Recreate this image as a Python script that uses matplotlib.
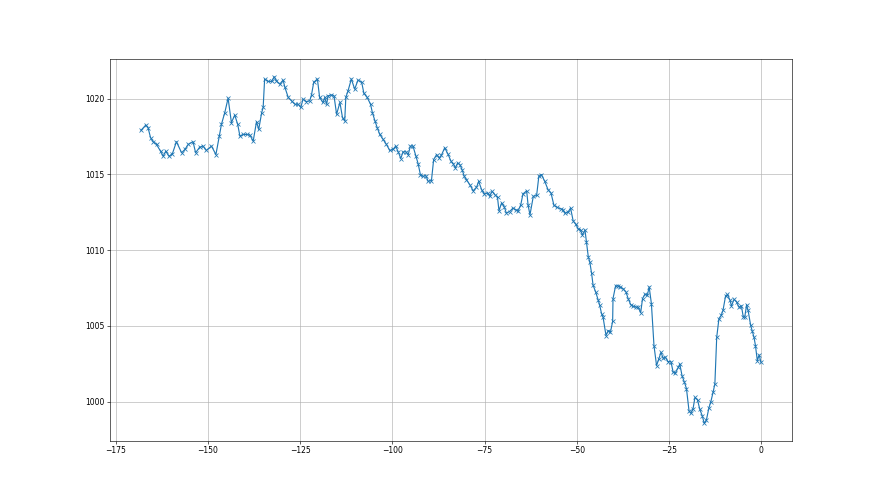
import matplotlib
matplotlib.use("Agg")
import matplotlib.pyplot as plt

hours = [
    -168.1, -166.8, -166.2, -165.5, -164.8, -163.9, -162.8, -162.1, -161.4, -160.5,
    -159.6, -158.5, -157.1, -156.2, -155.3, -154.0, -153.3, -152.2, -151.3, -150.4,
    -149.0, -147.8, -146.9, -146.3, -145.4, -144.5, -143.6, -142.7, -141.9, -141.3,
    -140.4, -139.5, -138.6, -137.7, -136.8, -136.2, -135.4, -135.0, -134.6, -133.7,
    -132.7, -132.0, -131.4, -130.5, -129.6, -129.1, -128.2, -127.3, -126.4, -125.5,
    -124.8, -124.2, -123.3, -122.4, -121.9, -121.3, -120.3, -119.7, -118.8, -118.3,
    -117.8, -117.4, -116.5, -115.8, -115.1, -114.2, -113.5, -112.9, -112.6, -112.0,
    -111.1, -110.2, -109.3, -108.3, -107.7, -106.8, -105.9, -105.4, -104.7, -104.1,
    -103.4, -102.5, -101.6, -100.7, -99.8, -99.1, -98.4, -97.7, -97.1, -96.3,
    -95.7, -95.1, -94.4, -93.6, -93.0, -92.4, -91.7, -90.9, -90.3, -89.4,
    -88.8, -88.0, -87.3, -86.7, -85.8, -84.9, -84.1, -83.5, -82.9, -82.3,
    -81.7, -81.1, -80.5, -79.9, -79.0, -78.1, -77.2, -76.6, -75.8, -75.1,
    -74.2, -73.6, -73.0, -72.2, -71.5, -71.1, -70.4, -69.7, -69.1, -68.2,
    -67.3, -66.6, -65.9, -65.2, -64.6, -63.6, -63.2, -62.7, -61.8, -60.9,
    -60.3, -59.6, -58.7, -57.8, -57.0, -56.2, -55.3, -54.4, -53.7, -53.3,
    -52.4, -51.7, -51.0, -50.3, -49.6, -49.0, -48.5, -47.8, -47.4, -46.9,
    -46.5, -46.0, -45.6, -44.9, -44.2, -43.8, -43.3, -42.9, -42.1, -41.5,
    -40.9, -40.3, -40.2, -39.5, -38.8, -38.2, -37.5, -36.7, -36.1, -35.4,
    -34.7, -34.0, -33.4, -32.7, -32.2, -31.6, -30.9, -30.4, -29.8, -29.1,
    -28.4, -27.8, -27.2, -26.6, -26.0, -25.3, -24.5, -23.9, -23.3, -22.5,
    -22.1, -21.5, -20.9, -20.3, -19.6, -19.1, -18.5, -18.0, -17.3, -16.7,
    -16.0, -15.5, -14.9, -14.2, -13.7, -13.1, -12.6, -12.1, -11.5, -10.9,
    -10.4, -9.7, -9.2, -8.5, -8.1, -7.4, -6.7, -6.1, -5.4, -4.9,
    -4.5, -4.0, -3.6, -2.9, -2.5, -2.0, -1.6, -1.1, -0.6, -0.1,
]

pressure = [
    1017.91, 1018.26, 1018.09, 1017.42, 1017.16, 1016.98, 1016.53, 1016.20, 1016.53, 1016.20,
    1016.36, 1017.16, 1016.43, 1016.65, 1016.98, 1017.16, 1016.43, 1016.80, 1016.87, 1016.58,
    1016.87, 1016.31, 1017.53, 1018.31, 1019.08, 1020.03, 1018.42, 1018.92, 1018.31, 1017.53,
    1017.64, 1017.64, 1017.60, 1017.20, 1018.48, 1017.97, 1019.08, 1019.42, 1021.30, 1021.14,
    1021.14, 1021.45, 1021.18, 1020.96, 1021.23, 1020.74, 1020.08, 1019.85, 1019.63, 1019.63,
    1019.42, 1019.97, 1019.81, 1019.85, 1020.25, 1021.08, 1021.30, 1020.08, 1019.75, 1020.08,
    1019.63, 1020.19, 1020.25, 1020.19, 1018.97, 1019.75, 1018.75, 1018.53, 1020.08, 1020.52,
    1021.30, 1020.63, 1021.23, 1021.08, 1020.35, 1020.08, 1019.63, 1019.08, 1018.53, 1018.09,
    1017.64, 1017.31, 1016.98, 1016.58, 1016.65, 1016.87, 1016.49, 1016.05, 1016.49, 1016.49,
    1016.31, 1016.87, 1016.87, 1016.20, 1015.70, 1014.99, 1014.87, 1014.92, 1014.54, 1014.59,
    1015.98, 1016.31, 1016.09, 1016.27, 1016.76, 1016.33, 1015.87, 1015.70, 1015.43, 1015.76,
    1015.65, 1015.32, 1014.87, 1014.65, 1014.32, 1013.92, 1014.14, 1014.54, 1013.99, 1013.71,
    1013.77, 1013.55, 1013.88, 1013.66, 1013.48, 1012.60, 1013.11, 1012.88, 1012.44, 1012.55,
    1012.78, 1012.66, 1012.60, 1012.99, 1013.71, 1013.92, 1012.95, 1012.33, 1013.55, 1013.61,
    1014.87, 1014.99, 1014.54, 1013.99, 1013.77, 1012.95, 1012.82, 1012.73, 1012.66, 1012.44,
    1012.51, 1012.78, 1011.93, 1011.71, 1011.40, 1011.33, 1011.00, 1011.33, 1010.56, 1009.56,
    1009.23, 1008.46, 1007.68, 1007.24, 1006.69, 1006.35, 1005.80, 1005.58, 1004.36, 1004.69,
    1004.58, 1005.29, 1006.80, 1007.64, 1007.64, 1007.57, 1007.46, 1007.24, 1006.80, 1006.40,
    1006.29, 1006.24, 1006.24, 1005.87, 1006.80, 1007.07, 1007.02, 1007.57, 1006.47, 1003.70,
    1002.37, 1002.82, 1003.25, 1002.86, 1002.92, 1002.64, 1002.64, 1001.93, 1001.89, 1002.26,
    1002.48, 1001.71, 1001.31, 1000.86, 999.38, 999.23, 999.54, 1000.27, 1000.11, 999.50,
    999.05, 998.57, 998.78, 999.60, 999.98, 1000.60, 1001.16, 1004.25, 1005.47, 1005.69,
    1006.02, 1006.97, 1007.07, 1006.69, 1006.31, 1006.75, 1006.57, 1006.24, 1006.31, 1005.58,
    1005.58, 1006.40, 1006.02, 1005.03, 1004.69, 1004.25, 1003.70, 1002.70, 1003.08, 1002.59,
]

fig, ax = plt.subplots(figsize=(16, 9), dpi=55)
ax.plot(hours, pressure, marker='x', color='#1f77b4')
ax.grid(True)
fig.savefig('out.png', dpi=55)
